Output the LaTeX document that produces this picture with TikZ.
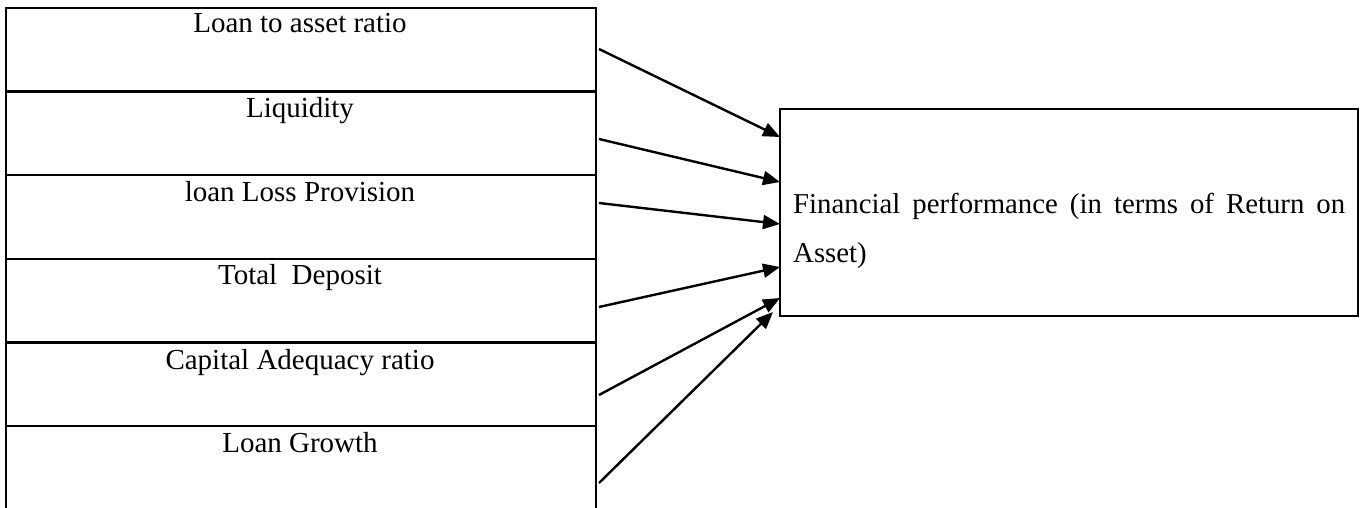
\documentclass[tikz,border=0pt]{standalone}
\usepackage{fontspec}
\newfontfamily\tnr{Liberation Serif}
\usetikzlibrary{arrows.meta,calc}
\begin{document}
\begin{tikzpicture}[x=1pt,y=-1pt,
  rowbox/.style={draw, line width=2.6pt, rectangle, minimum width=590pt, minimum height=83.6pt, inner sep=0pt, outer sep=0pt},
  rowtext/.style={anchor=base, inner sep=0pt, font=\tnr\fontsize{29}{34}\selectfont},
  outbox/.style={draw, line width=2.6pt, rectangle, minimum width=578pt, minimum height=207pt, inner sep=0pt, outer sep=0pt},
  outtext/.style={anchor=base west, inner sep=0pt, text width=552pt, align=justify, font=\tnr\fontsize{28.8}{50}\selectfont},
  link/.style={line width=2.4pt, -{Triangle[length=17pt,width=14pt]}}
]
\useasboundingbox (0,0) rectangle (1366,508);
% left column of rows
\node[rowbox] (r1) at (301,49.8) {};
\node[rowbox] (r2) at (301,133.4) {};
\node[rowbox] (r3) at (301,217.0) {};
\node[rowbox] (r4) at (301,300.6) {};
\node[rowbox] (r5) at (301,384.2) {};
\node[rowbox] (r6) at (301,467.8) {};
\node[rowtext] (t1) at ($(r1.north)+(-1,25)$) {Loan to asset ratio};
\node[rowtext] (t2) at ($(r2.north)+(-1,26)$) {Liquidity};
\node[rowtext] (t3) at ($(r3.north)+(-1,26)$) {loan Loss Provision};
\node[rowtext] (t4) at ($(r4.north)+(-1,26)$) {Total~~Deposit};
\node[rowtext] (t5) at ($(r5.north)+(-1,27)$) {Capital Adequacy ratio};
\node[rowtext] (t6) at ($(r6.north)+(-1,26)$) {Loan Growth};
% outcome box
\node[outbox] (fp) at (1069,212.5) {};
\node[outtext] (fpt) at ($(fp.north west)+(13,104)$) {\hyphenpenalty=10000 Financial performance (in terms of Return on \mbox{Asset)}};
% connectors
\draw[link] ($(r1.east)+(3,-0.8)$) -- ($(fp.north west)+(0,28)$);
\draw[link] ($(r2.east)+(3,5.6)$) -- ($(fp.north west)+(0,73)$);
\draw[link] ($(r3.east)+(3,-14)$) -- ($(fp.north west)+(0,115)$);
\draw[link] ($(r4.east)+(3,6.4)$) -- ($(fp.north west)+(0,158)$);
\draw[link] ($(r5.east)+(3,10.8)$) -- ($(fp.north west)+(0,189)$);
\draw[link] ($(r6.east)+(3,15.2)$) -- ($(fp.north west)+(-7,203)$);
\end{tikzpicture}
\end{document}
